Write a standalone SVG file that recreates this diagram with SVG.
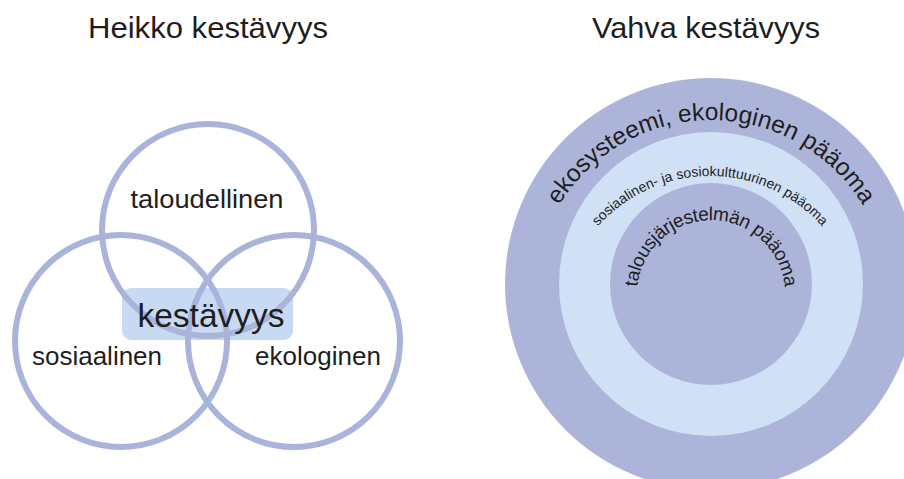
<svg xmlns="http://www.w3.org/2000/svg" width="904" height="479" viewBox="0 0 904 479">
  <style>
    .t { font-family: "Liberation Sans", Arial, sans-serif; fill: #1e1e1e; }
    .ring { fill: none; stroke: #aab3da; stroke-width: 6; }
  </style>
  <defs>
    <path id="arcOuter" d="M 533 298 A 178 178 0 0 1 889 298"/>
    <path id="arcMid" d="M 560 326 A 150 150 0 0 1 860 326"/>
    <path id="arcInner" d="M 638.1 306.9 A 74 74 0 1 1 783.9 306.9"/>
  </defs>
  <rect width="904" height="479" fill="#ffffff"/>

  <g id="title-weak">
    <text class="t" x="208" y="38" font-size="29" text-anchor="middle" textLength="240" lengthAdjust="spacingAndGlyphs">Heikko kestävyys</text>
  </g>
  <g id="title-strong">
    <text class="t" x="706" y="38" font-size="29" text-anchor="middle" textLength="228" lengthAdjust="spacingAndGlyphs">Vahva kestävyys</text>
  </g>

  <g id="kestavyys-box">
    <rect x="122" y="288" width="171" height="52" rx="9" fill="#c8daf2"/>
  </g>
  <g id="taloudellinen">
    <circle class="ring" cx="208" cy="230" r="106"/>
    <text class="t" x="207" y="208" font-size="26" text-anchor="middle" textLength="153" lengthAdjust="spacingAndGlyphs">taloudellinen</text>
  </g>
  <g id="sosiaalinen">
    <circle class="ring" cx="121" cy="341" r="106"/>
    <text class="t" x="97" y="365" font-size="26" text-anchor="middle">sosiaalinen</text>
  </g>
  <g id="ekologinen">
    <circle class="ring" cx="294" cy="341" r="106"/>
    <text class="t" x="318" y="365" font-size="26" text-anchor="middle">ekologinen</text>
  </g>
  <g id="kestavyys">
    <text class="t" x="211" y="327" font-size="33" text-anchor="middle" textLength="147" lengthAdjust="spacingAndGlyphs">kestävyys</text>
  </g>

  <g id="ekosysteemi">
    <circle cx="711" cy="284" r="206" fill="#adb4da"/>
    <text class="t" font-size="24.5"><textPath href="#arcOuter" startOffset="50%" text-anchor="middle">ekosysteemi, ekologinen pääoma</textPath></text>
  </g>
  <g id="sosiaalinen-paaoma">
    <circle cx="711" cy="284" r="152" fill="#d0e0f5"/>
    <text class="t" font-size="14" fill="#3a3a4a"><textPath href="#arcMid" startOffset="50%" text-anchor="middle">sosiaalinen- ja sosiokulttuurinen pääoma</textPath></text>
  </g>
  <g id="talous-paaoma">
    <circle cx="711" cy="284" r="101" fill="#adb4da"/>
    <text class="t" font-size="19" letter-spacing="-0.4"><textPath href="#arcInner" startOffset="50%" text-anchor="middle">talousjärjestelmän pääoma</textPath></text>
  </g>
  <g id="connectors"/>
</svg>
